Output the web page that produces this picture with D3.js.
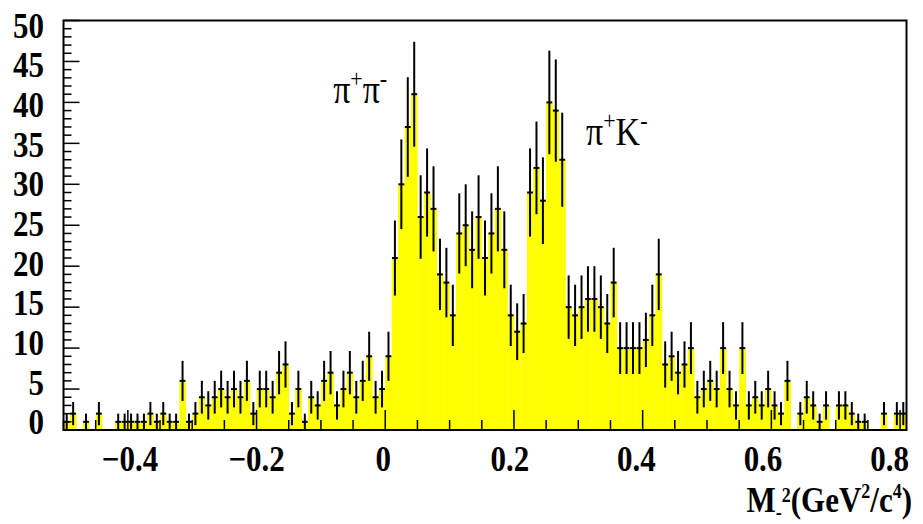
<!DOCTYPE html>
<html><head><meta charset="utf-8">
<script src="https://cdn.jsdelivr.net/npm/d3@7"></script>
<style>body{margin:0;background:#fff}svg{display:block}</style>
</head><body>
<svg id="c" width="923" height="524"></svg>
<script>
// ---- data ----
const binLow = -0.5;
const binWidth = 0.01;
const counts = [
  1,2,0,1,0,2,0,0,1,1,
  1,1,1,2,1,2,1,1,6,1,
  2,4,3,4,5,4,5,4,6,2,
  5,5,4,7,8,2,5,1,4,3,
  6,7,3,5,7,4,6,9,4,5,
  9,21,30,37,41,26,29,27,19,18,
  14,24,25,22,26,21,24,27,22,14,
  12,13,29,32,28,40,39,33,15,14,
  15,16,16,15,13,18,10,10,10,10,
  11,14,19,8,9,7,8,10,4,5,
  6,5,10,5,3,10,3,4,3,5,
  3,2,6,0,2,4,3,1,3,0,
  3,3,2,1,1,0,0,2,0,2,2
];
const xDomain = [-0.5, 0.81];
const yDomain = [0, 50];
const yTickLabels = [0,5,10,15,20,25,30,35,40,45,50];
const xTickLabels = [-0.4,-0.2,0,0.2,0.4,0.6,0.8];
const peakLabels = [
  {base:"π", sup1:"+", base2:"π", sup2:"-", x:-0.081, y:39.9},
  {base:"π", sup1:"+", base2:"K", sup2:"-", x:0.312, y:34.8}
];

// ---- layout ----
const L = 63.5, R = 906.5, T = 20.5, B = 430;
const svg = d3.select("#c");
const x = d3.scaleLinear().domain(xDomain).range([L, R]);
const y = d3.scaleLinear().domain(yDomain).range([B, T]);
// label placement scales (labels in reference are slightly compressed vs ticks)
const xLab = d3.scaleLinear().domain([-0.4, 0.6]).range([130, 763]);
const yLab = d3.scaleLinear().domain([0, 50]).range([421.7, 25]);

const bins = counts.map((c, i) => ({x0: binLow + i*binWidth, x1: binLow + (i+1)*binWidth, c}));

// histogram fill
svg.append("g").selectAll("rect").data(bins.filter(d => d.c > 0)).join("rect")
  .attr("x", d => x(d.x0)).attr("width", d => x(d.x1) - x(d.x0) + 0.3)
  .attr("y", d => y(d.c)).attr("height", d => B - y(d.c))
  .attr("fill", "#ffff00");

// error bars
const eb = svg.append("g").attr("stroke", "#000").attr("stroke-width", 2);
bins.filter(d => d.c > 0).forEach(d => {
  const cx = (x(d.x0) + x(d.x1)) / 2;
  const e = Math.sqrt(d.c);
  eb.append("line").attr("x1", cx).attr("x2", cx)
    .attr("y1", y(Math.max(0, d.c - e))).attr("y2", y(d.c + e));
  eb.append("line").attr("x1", x(d.x0) + 0.3).attr("x2", x(d.x1) - 0.3)
    .attr("y1", y(d.c)).attr("y2", y(d.c));
});

// ticks
const tk = svg.append("g").attr("stroke", "#000").attr("stroke-width", 1.5);
d3.range(0, 51).forEach(v => {
  const len = v % 5 === 0 ? 16 : 8;
  tk.append("line").attr("x1", L).attr("x2", L + len).attr("y1", y(v)).attr("y2", y(v));
});
d3.range(-10, 17).forEach(k => {
  const v = k * 0.05;
  const len = k % 4 === 0 ? 20 : 10;
  tk.append("line").attr("x1", x(v)).attr("x2", x(v)).attr("y1", B).attr("y2", B - len);
});

// frame
svg.append("rect").attr("x", L).attr("y", T).attr("width", R - L).attr("height", B - T)
  .attr("fill", "none").attr("stroke", "#000").attr("stroke-width", 2);

const serif = "'Liberation Serif','Times New Roman',serif";
// y labels
yTickLabels.forEach(v => {
  svg.append("g").attr("transform", `translate(44,${yLab(v)}) scale(1,1.17)`)
    .append("text").attr("text-anchor", "end").attr("dy", "0.35em")
    .attr("font-family", serif).attr("font-weight", "bold").attr("font-size", 31)
    .text(v);
});
// x labels
xTickLabels.forEach(v => {
  svg.append("g").attr("transform", `translate(${xLab(v)},471) scale(1,1.15)`)
    .append("text").attr("text-anchor", "middle")
    .attr("font-family", serif).attr("font-weight", "bold").attr("font-size", 31)
    .text(v === 0 ? "0" : d3.format("")(v));
});

// axis title
const tg = svg.append("g").attr("transform", "translate(912,512) scale(1,1.15)");
const tt = tg.append("text").attr("text-anchor", "end").attr("font-family", serif)
  .attr("font-weight", "bold").attr("font-size", 31);
tt.append("tspan").text("M");
tt.append("tspan").attr("font-size", 18).attr("dy", 6).text("-");
tt.append("tspan").attr("font-size", 18).attr("dy", -15).text("2");
tt.append("tspan").attr("dy", 9).text("(GeV");
tt.append("tspan").attr("font-size", 18).attr("dy", -12).text("2");
tt.append("tspan").attr("dy", 12).text("/c");
tt.append("tspan").attr("font-size", 18).attr("dy", -12).text("4");
tt.append("tspan").attr("dy", 12).text(")");

// peak labels
peakLabels.forEach(p => {
  const g = svg.append("g").attr("transform", `translate(${x(p.x)},${y(p.y)}) scale(1,1.15)`);
  const t = g.append("text").attr("font-family", serif).attr("font-size", 34);
  t.append("tspan").text(p.base);
  t.append("tspan").attr("font-size", 22).attr("dy", -14).text(p.sup1);
  t.append("tspan").attr("dy", 14).text(p.base2);
  t.append("tspan").attr("font-size", 22).attr("dy", -14).text(p.sup2);
});
</script>
</body></html>
